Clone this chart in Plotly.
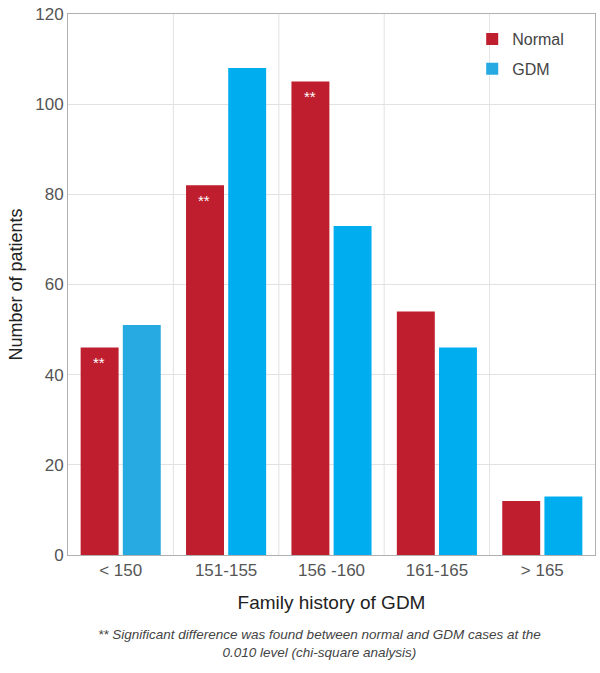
import plotly.graph_objects as go

categories = ["< 150", "151-155", "156 -160", "161-165", "> 165"]
normal = [46, 82, 105, 54, 12]
gdm = [51, 108, 73, 46, 13]
significant = [True, True, True, False, False]
y_ticks = [0, 20, 40, 60, 80, 100, 120]

FONT = "Liberation Sans Narrow, Liberation Sans, Arial, sans-serif"
RED = "#BE1E2D"
BLUE = "#00AEEF"
gdm_colors = ["#27A9E1"] + [BLUE] * (len(categories) - 1)

fig = go.Figure()
fig.add_trace(go.Bar(x=categories, y=normal, name="Normal", legendgroup="a",
                     marker=dict(color=RED, line=dict(width=0))))
fig.add_trace(go.Bar(x=categories, y=gdm, name="GDM", legendgroup="b",
                     marker=dict(color=gdm_colors, line=dict(width=0))))

annotations = []
for i, (c, v, s) in enumerate(zip(categories, normal, significant)):
    if s:
        annotations.append(dict(x=c, y=v, xref="x", yref="y", text="**",
                                showarrow=False, xshift=-22, yshift=-15,
                                font=dict(color="white", size=15, family=FONT)))
annotations.append(dict(
    x=0.478, y=-0.13, xref="paper", yref="paper", xanchor="center", yanchor="top",
    text="<i>** Significant difference was found between normal and GDM cases at the<br>0.010 level (chi-square analysis)</i>",
    showarrow=False, align="center",
    font=dict(size=13.5, color="#444", family=FONT)))

fig.update_layout(
    width=600, height=673,
    margin=dict(l=68, r=5, t=14, b=118),
    plot_bgcolor="white", paper_bgcolor="white",
    barmode="group", bargap=0.2, bargroupgap=0.1,
    font=dict(family=FONT, color="#444", size=17),
    legend=dict(x=0.767, y=0.985, xanchor="left", yanchor="top",
                bgcolor="rgba(0,0,0,0)", font=dict(size=16, color="#444"),
                traceorder="grouped", tracegroupgap=6),
    annotations=annotations,
    showlegend=True,
)
for k in range(1, len(categories)):
    fig.add_vline(x=k - 0.5, line=dict(color="#e2e2e2", width=1), layer="below")
fig.update_xaxes(
    showgrid=False, showline=True, linecolor="#b0b0b0", automargin=False,
    mirror=True, ticks="", tickfont=dict(size=17, color="#555"),
    title=dict(text="Family history of GDM", font=dict(size=19, color="#222"), standoff=16),
)
fig.update_yaxes(
    range=[0, 120], tickvals=y_ticks, showgrid=True, gridcolor="#e2e2e2",
    showline=True, linecolor="#b0b0b0", mirror=True, zeroline=False, automargin=False,
    tickfont=dict(size=17, color="#555"), ticks="",
    title=dict(text="Number of patients", font=dict(size=18, color="#222"), standoff=7),
)

fig.write_html("out.html", config={"displayModeBar": False},
               post_script="document.body.style.margin='0';")
